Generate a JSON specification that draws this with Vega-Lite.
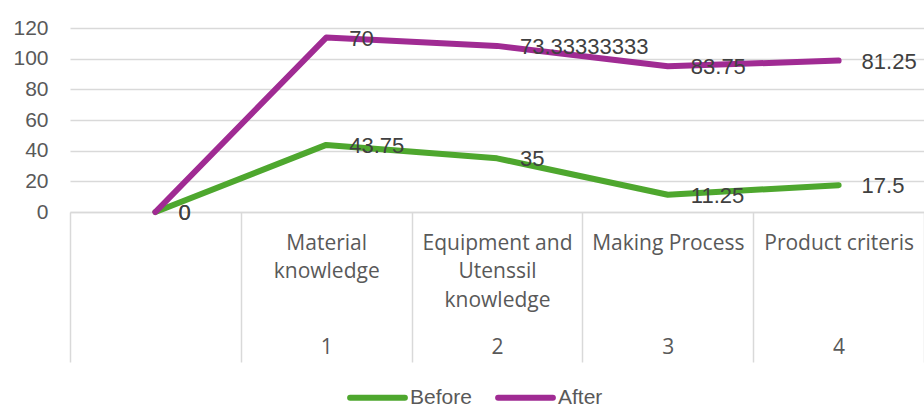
{
  "$schema": "https://vega.github.io/schema/vega-lite/v6.json",
  "width": 854,
  "height": 184,
  "autosize": {"type": "none"},
  "padding": {"left": 70, "top": 28, "right": 0, "bottom": 196},
  "background": "#ffffff",
  "config": {"view": {"stroke": null}},
  "data": {
    "values": [
      {"idx": 0, "series": "Before", "value": 0},
      {"idx": 1, "series": "Before", "value": 43.75},
      {"idx": 2, "series": "Before", "value": 35},
      {"idx": 3, "series": "Before", "value": 11.25},
      {"idx": 4, "series": "Before", "value": 17.5},
      {"idx": 0, "series": "After", "value": 0},
      {"idx": 1, "series": "After", "value": 70},
      {"idx": 2, "series": "After", "value": 73.33333333},
      {"idx": 3, "series": "After", "value": 83.75},
      {"idx": 4, "series": "After", "value": 81.25}
    ]
  },
  "transform": [
    {"stack": "value", "groupby": ["idx"], "sort": [{"field": "series", "order": "descending"}], "as": ["y0", "y1"]}
  ],
  "encoding": {
    "y": {
      "field": "y1", "type": "quantitative",
      "scale": {"domain": [0, 120], "nice": false},
      "axis": {
        "title": null, "values": [0, 20, 40, 60, 80, 100, 120],
        "grid": true, "gridColor": "#d9d9d9", "gridWidth": 1.5,
        "domain": false, "ticks": false, "labelOverlap": false,
        "labelFont": "Liberation Sans", "labelFontSize": 21, "labelColor": "#595959",
        "labelPadding": 22
      }
    }
  },
  "resolve": {"axis": {"x": "independent"}},
  "layer": [
    {
      "mark": {"type": "line", "strokeWidth": 6, "strokeCap": "round", "strokeJoin": "round"},
      "encoding": {
        "x": {
          "field": "idx", "type": "quantitative",
          "scale": {"domain": [-0.5, 4.5], "nice": false, "zero": false},
          "axis": {
            "orient": "bottom", "title": null, "grid": false, "labels": false,
            "values": [-0.5, 0.5, 1.5, 2.5, 3.5, 4.5],
            "ticks": true, "tickSize": 150, "tickColor": "#d9d9d9", "tickWidth": 1.5,
            "domain": true, "domainColor": "#d9d9d9", "domainWidth": 1.5
          }
        },
        "color": {
          "field": "series", "type": "nominal",
          "scale": {"domain": ["Before", "After"], "range": ["#4EA72E", "#A02B93"]},
          "legend": {
            "title": null, "orient": "none", "direction": "horizontal",
            "legendX": 277, "legendY": 339,
            "symbolType": "stroke", "symbolSize": 3000, "symbolStrokeWidth": 6,
            "labelFont": "Liberation Sans", "labelFontSize": 21, "labelColor": "#595959",
            "labelOffset": 2, "columnPadding": 14,
            "encode": {"symbols": {"update": {"strokeCap": {"value": "round"}}}}
          }
        },
        "detail": {"field": "series"}
      }
    },
    {
      "mark": {"type": "text", "align": "left", "baseline": "middle", "dx": 23, "dy": 1, "font": "Liberation Sans", "fontSize": 22, "color": "#404040"},
      "encoding": {
        "x": {
          "field": "idx", "type": "quantitative",
          "axis": {
            "orient": "bottom", "title": null, "grid": false,
            "values": [1, 2, 3, 4], "ticks": false, "domain": false,
            "labelFont": "Open Sans", "labelFontSize": 21, "labelColor": "#595959",
            "labelBaseline": "top", "labelPadding": 20, "labelLineHeight": 28.5,
            "labelExpr": "datum.value == 1 ? ['Material', 'knowledge'] : datum.value == 2 ? ['Equipment and', 'Utenssil', 'knowledge'] : datum.value == 3 ? 'Making Process' : 'Product criteris'"
          }
        },
        "text": {"field": "value", "type": "nominal"}
      }
    },
    {
      "transform": [{"filter": "datum.series == 'Before'"}],
      "mark": {"type": "text", "opacity": 0},
      "encoding": {
        "x": {
          "field": "idx", "type": "quantitative",
          "axis": {
            "orient": "bottom", "title": null, "grid": false,
            "values": [1, 2, 3, 4], "ticks": false, "domain": false,
            "labelFont": "Open Sans", "labelFontSize": 21, "labelColor": "#595959",
            "labelBaseline": "middle", "labelPadding": 135, "format": "d"
          }
        },
        "text": {"field": "value", "type": "nominal"}
      }
    }
  ]
}
